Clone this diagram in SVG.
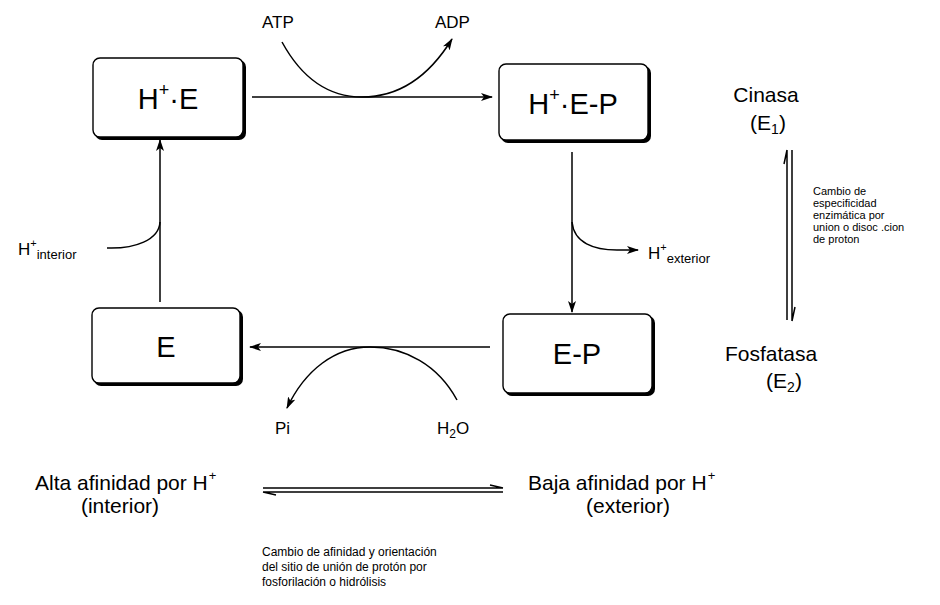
<svg xmlns="http://www.w3.org/2000/svg" width="940" height="605" viewBox="0 0 940 605">
<defs>
<marker id="ah" viewBox="0 0 12 8" refX="11" refY="4" markerWidth="12" markerHeight="8" markerUnits="userSpaceOnUse" orient="auto">
<path d="M0,0 L12,4 L0,8 L3,4 Z" fill="#000"/>
</marker>
</defs>
<style>
text{font-family:"Liberation Sans",Arial,sans-serif;fill:#000}
.box{fill:#fff;stroke:#000;stroke-width:1.4}
.sh{fill:#000}
.lbl{font-size:29px;text-anchor:middle}
.ln{fill:none;stroke:#000;stroke-width:1.5}
.med{font-size:17px}
.big{font-size:21px}
.sm{font-size:11px}
.note{font-size:12px}
</style>
<g id="node-HE">
<rect class="sh" x="95" y="60" width="151" height="80" rx="7"/>
<rect class="box" x="93" y="58" width="150" height="79" rx="7"/>
<text class="lbl" x="168" y="109">H<tspan font-size="18" dy="-13">+</tspan><tspan dy="13">·E</tspan></text>
</g>
<g id="node-HEP">
<rect class="sh" x="501" y="66" width="150" height="77" rx="7"/>
<rect class="box" x="499" y="64" width="149" height="76" rx="7"/>
<text class="lbl" x="573" y="114">H<tspan font-size="18" dy="-13">+</tspan><tspan dy="13">·E-P</tspan></text>
</g>
<g id="node-E">
<rect class="sh" x="94" y="310" width="149" height="76" rx="7"/>
<rect class="box" x="92" y="308" width="148" height="75" rx="7"/>
<text class="lbl" x="166" y="357">E</text>
</g>
<g id="node-EP">
<rect class="sh" x="505" y="316" width="150" height="80" rx="7"/>
<rect class="box" x="503" y="314" width="149" height="79" rx="7"/>
<text class="lbl" x="577" y="364">E-P</text>
</g>
<g id="connectors">
<path class="ln" d="M252,97 L492,97" marker-end="url(#ah)"/>
<path class="ln" d="M282,42 C300,75 325,97 362,97 C398,97 428,78 452,39" marker-end="url(#ah)"/>
<path class="ln" d="M572,152 L572,312" marker-end="url(#ah)"/>
<path class="ln" d="M572,222 C574,243 594,250 617,250 L638,250" marker-end="url(#ah)"/>
<path class="ln" d="M490,347 L250,347" marker-end="url(#ah)"/>
<path class="ln" d="M457,400 C438,365 405,347 370,347 C335,347 305,370 287,408" marker-end="url(#ah)"/>
<path class="ln" d="M160,302 L160,140" marker-end="url(#ah)"/>
<path class="ln" d="M107,248 C135,249 159,240 160,222"/>
<path class="ln" d="M787,320 L787,150 M787,150 L784,164"/>
<path class="ln" d="M792,150 L792,321 M792,321 L795,307"/>
<path class="ln" d="M263,488 L503,488 M503,488 L490,485"/>
<path class="ln" d="M263,492 L503,492 M263,492 L276,495"/>
</g>
<g id="labels">
<text class="med" x="262" y="28">ATP</text>
<text class="med" x="435" y="28">ADP</text>
<text class="med" x="18" y="255">H<tspan font-size="11" dy="-8">+</tspan><tspan font-size="13" dy="12">interior</tspan></text>
<text class="med" x="648" y="259">H<tspan font-size="11" dy="-8">+</tspan><tspan font-size="13" dy="12">exterior</tspan></text>
<text class="med" x="275" y="434">Pi</text>
<text class="med" x="437" y="434">H<tspan font-size="12" dy="4">2</tspan><tspan dy="-4">O</tspan></text>
<text class="big" x="766" y="102" text-anchor="middle">Cinasa</text>
<text class="big" x="768" y="130" text-anchor="middle">(E<tspan font-size="14" dy="4">1</tspan><tspan dy="-4">)</tspan></text>
<text class="big" x="771" y="361" text-anchor="middle">Fosfatasa</text>
<text class="big" x="784" y="388" text-anchor="middle">(E<tspan font-size="14" dy="4">2</tspan><tspan dy="-4">)</tspan></text>
<text class="sm"><tspan x="813" y="195">Cambio de</tspan><tspan x="813" y="207">especificidad</tspan><tspan x="813" y="219">enzimática por</tspan><tspan x="813" y="231">union o disoc .cion</tspan><tspan x="813" y="243">de proton</tspan></text>
<text class="big" x="35" y="490" font-size="20">Alta afinidad por H<tspan font-size="13" dx="1" dy="-10">+</tspan></text>
<text class="big" x="120" y="513" text-anchor="middle">(interior)</text>
<text class="big" x="528" y="490" font-size="20">Baja afinidad por H<tspan font-size="13" dx="1" dy="-10">+</tspan></text>
<text class="big" x="628" y="513" text-anchor="middle">(exterior)</text>
<text class="note"><tspan x="262" y="556">Cambio de afinidad y orientación</tspan><tspan x="262" y="571">del sitio de unión de protón por</tspan><tspan x="262" y="586">fosforilación o hidrólisis</tspan></text>
</g>
</svg>
